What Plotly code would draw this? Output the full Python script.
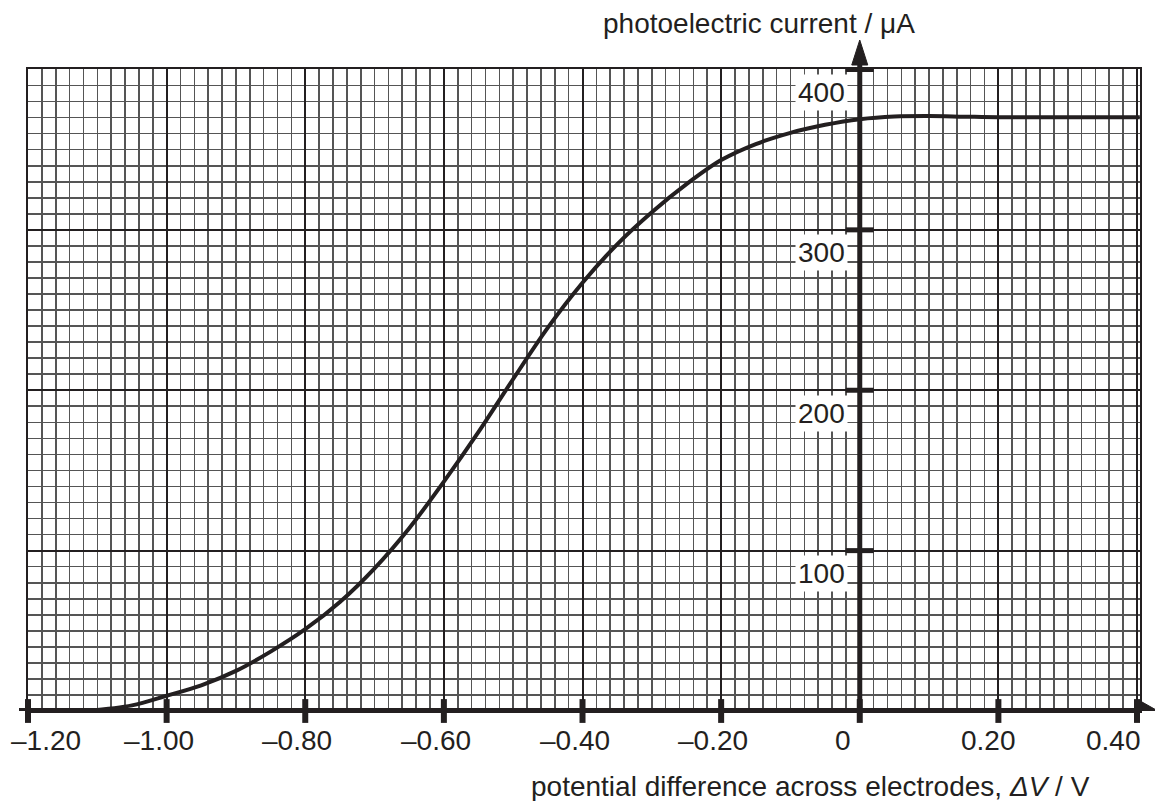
import plotly.graph_objects as go

# ---- data ----
voltage = [-1.115, -1.05, -1.00, -0.95, -0.90, -0.85, -0.80, -0.75, -0.70, -0.65,
           -0.60, -0.55, -0.50, -0.45, -0.40, -0.35, -0.30, -0.25, -0.20, -0.15,
           -0.10, -0.05, 0.00, 0.05, 0.10, 0.15, 0.20, 0.30, 0.404]
current = [0, 3.5, 9.5, 16, 25, 37, 51, 68, 89, 114,
           143, 174, 207, 239, 267, 291, 311, 328.5, 343.5, 353.5,
           360.5, 365.5, 369, 370.7, 371, 370.6, 370.2, 370.2, 370.2]

x_ticks = [-1.2, -1.0, -0.8, -0.6, -0.4, -0.2, 0.0, 0.2, 0.4]
x_tick_labels = ["\u20131.20", "\u20131.00", "\u20130.80", "\u20130.60", "\u20130.40",
                 "\u20130.20", "0", "0.20", "0.40"]
y_ticks = [100, 200, 300, 400]
y_tick_labels = ["100", "200", "300", "400"]

x_title = "potential difference across electrodes, <i>\u0394V</i> / V"
y_title = "photoelectric current / \u03bcA"

# ---- layout constants (pixels) ----
W, H = 1155, 801
ML, MR, MT, MB = 28, 15, 69, 90
PW, PH = W - ML - MR, H - MT - MB
X_RANGE = [-1.2, 0.4043]
Y_RANGE = [0, 400.3]
INK = "#231f20"
FONT = dict(family="Liberation Sans, Arial, Helvetica, sans-serif", size=28, color=INK)
x_label_shift = [18, -8, -8, -8, -8, -8, -17, -10, -24]


def px2paper_x(px):
    return (px - ML) / PW


def px2paper_y(py):
    return (H - MB - py) / PH


fig = go.Figure()

fig.add_trace(go.Scatter(
    x=voltage, y=current, mode="lines",
    line=dict(color=INK, width=4, shape="spline", smoothing=0.9),
    hoverinfo="skip", showlegend=False,
))

# tick marks crossing the axes
fig.add_trace(go.Scatter(
    x=x_ticks, y=[0] * len(x_ticks), mode="markers",
    marker=dict(symbol="line-ns", size=17, line=dict(color=INK, width=6)),
    cliponaxis=False, hoverinfo="skip", showlegend=False,
))
fig.add_trace(go.Scatter(
    x=[0] * len(y_ticks), y=y_ticks, mode="markers",
    marker=dict(symbol="line-ew", size=20, line=dict(color=INK, width=5)),
    cliponaxis=False, hoverinfo="skip", showlegend=False,
))

shapes = [
    # y axis (at V = 0)
    dict(type="line", xref="x", yref="paper", x0=0, x1=0,
         y0=0, y1=px2paper_y(52), line=dict(color=INK, width=5), layer="above"),
    # x axis (at I = 0)
    dict(type="line", xref="paper", yref="y", x0=px2paper_x(19), x1=px2paper_x(1146),
         y0=0, y1=0, line=dict(color=INK, width=6), layer="above"),
    # arrowheads
    dict(type="path", xref="x", xsizemode="pixel", xanchor=0,
         yref="paper", ysizemode="pixel", yanchor=1,
         path="M -8,4 L 0,29 L 8,4 Z", fillcolor=INK, line=dict(color=INK, width=1),
         layer="above"),
    dict(type="path", xref="paper", xsizemode="pixel", xanchor=1,
         yref="y", ysizemode="pixel", yanchor=0,
         path="M 2,9 L 18,0 L 2,-9 Z", fillcolor=INK, line=dict(color=INK, width=1),
         layer="above"),
]

annotations = []
for v, lab, sh in zip(x_ticks, x_tick_labels, x_label_shift):
    annotations.append(dict(x=v, y=0, xref="x", yref="y", text=lab, showarrow=False,
                            xanchor="center", yanchor="middle", xshift=sh, yshift=-29,
                            font=FONT))
for v, lab in zip(y_ticks, y_tick_labels):
    annotations.append(dict(x=0, y=v, xref="x", yref="y", text=lab, showarrow=False,
                            xanchor="right", yanchor="middle", xshift=-12, yshift=-23,
                            bgcolor="white", borderpad=2, font=FONT))
annotations.append(dict(x=px2paper_x(601), y=px2paper_y(23), xref="paper", yref="paper",
                        text=y_title, showarrow=False, xanchor="left", yanchor="middle",
                        font=FONT))
annotations.append(dict(x=px2paper_x(1092), y=px2paper_y(786), xref="paper", yref="paper",
                        text=x_title, showarrow=False, xanchor="right", yanchor="middle",
                        font=FONT))

axis_common = dict(
    showgrid=True, gridcolor=INK, gridwidth=2,
    zeroline=False, showticklabels=False, ticks="",
    showline=True, mirror=True, linecolor=INK, linewidth=2,
    fixedrange=True,
)

fig.update_layout(
    width=W, height=H,
    margin=dict(l=ML, r=MR, t=MT, b=MB, pad=0),
    paper_bgcolor="white", plot_bgcolor="white",
    showlegend=False,
    xaxis=dict(range=X_RANGE, tick0=0, dtick=0.2,
               minor=dict(tick0=0, dtick=0.02, showgrid=True, gridcolor="#555555", gridwidth=1.6),
               **axis_common),
    yaxis=dict(range=Y_RANGE, tick0=0, dtick=100,
               minor=dict(tick0=0, dtick=10, showgrid=True, gridcolor="#555555", gridwidth=1.6),
               **axis_common),
    shapes=shapes,
    annotations=annotations,
    font=FONT,
)

fig.write_html(
    "out.html",
    config={"displayModeBar": False, "staticPlot": True},
    post_script="document.body.style.margin='0';document.body.style.overflow='hidden';",
)
